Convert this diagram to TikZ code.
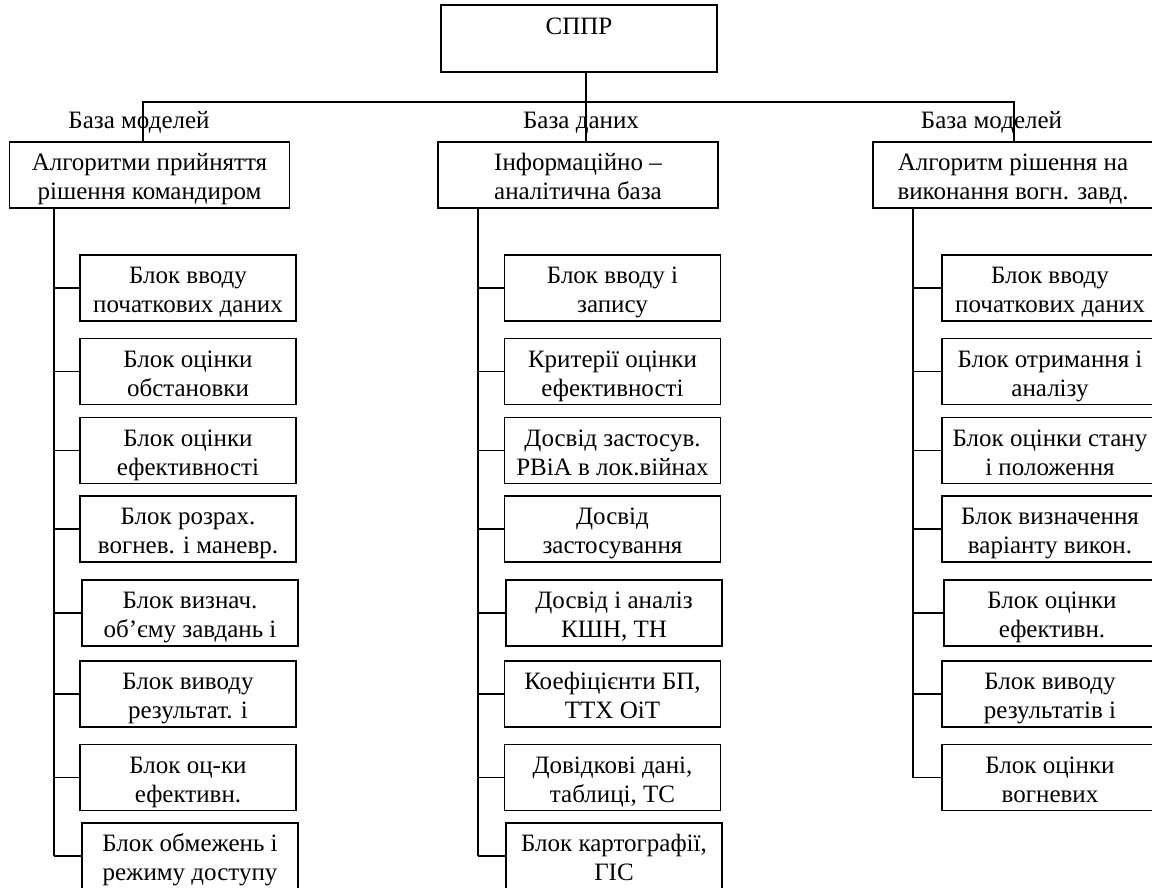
\documentclass[tikz,border=0pt]{standalone}
\usepackage{fontspec}
\setmainfont{Liberation Serif}
\begin{document}
\begin{tikzpicture}[x=1pt,y=-1pt,
  box/.style={draw, line width=1.8pt, inner sep=0pt, align=center,
    text height=50pt, text depth=1pt, font=\rmfamily\fontsize{25}{29}\selectfont},
  midbox/.style={box, minimum width=280pt, minimum height=66pt},
  leaf/.style={box, minimum width=216pt, minimum height=66pt},
  lbl/.style={inner sep=0pt, anchor=base, font=\rmfamily\fontsize{25}{29}\selectfont},
  conn/.style={line width=1.6pt}]
\useasboundingbox (0,0) rectangle (1152,887);
\clip (0,0) rectangle (1152,887);

% top
\node[box, text height=21pt, text depth=30pt, minimum width=276pt, minimum height=67pt] (sppr) at (579,38.5) {СППР};

% level 2
\node[midbox] (alg1) at (149.5,175) {Алгоритми прийняття\\рішення командиром};
\node[midbox] (info) at (578,175) {Інформаційно –\\аналітична база};
\node[midbox] (alg2) at (1013,175) {Алгоритм рішення на\\виконання вогн. завд.};

% labels
\node[lbl] (lb1) at (139,128) {База моделей};
\node[lbl] (lb2) at (581,128) {База даних};
\node[lbl] (lb3) at (991.5,128) {База моделей};

% junctions
\coordinate (jm) at (586,102);
\coordinate (jl) at (143,102);
\coordinate (jr) at (1014,102);
\draw[conn] (sppr.south -| jm) -- (info.north -| jm);
\draw[conn] (alg1.north -| jl) -- (jl) -- (jr) -- (alg2.north -| jr);

% left column
\node[leaf] (a1) at (188,288) {Блок вводу\\початкових даних};
\node[leaf] (a2) at (188,371.5) {Блок оцінки\\обстановки};
\node[leaf] (a3) at (188,450.5) {Блок оцінки\\ефективності};
\node[leaf] (a4) at (188,529) {Блок розрах.\\вогнев. і маневр.};
\node[leaf] (a5) at (190,613) {Блок визнач.\\об’єму завдань і};
\node[leaf] (a6) at (188,694) {Блок виводу\\результат. і};
\node[leaf] (a7) at (188,777.5) {Блок оц-ки\\ефективн.};
\node[leaf] (a8) at (190,856) {Блок обмежень і\\режиму доступу};

% middle column
\node[leaf] (b1) at (612.5,288) {Блок вводу і\\запису};
\node[leaf] (b2) at (612.5,371.5) {Критерії оцінки\\ефективності};
\node[leaf] (b3) at (612.5,450.5) {Досвід застосув.\\РВіА в лок.війнах};
\node[leaf] (b4) at (612.5,529) {Досвід\\застосування};
\node[leaf] (b5) at (614,613) {Досвід і аналіз\\КШН, ТН};
\node[leaf] (b6) at (612.5,694) {Коефіцієнти БП,\\ТТХ ОіТ};
\node[leaf] (b7) at (612.5,777.5) {Довідкові дані,\\таблиці, ТС};
\node[leaf] (b8) at (614,856) {Блок картографії,\\ГІС};

% right column
\node[leaf] (c1) at (1050,288) {Блок вводу\\початкових даних};
\node[leaf] (c2) at (1050,371.5) {Блок отримання і\\аналізу};
\node[leaf] (c3) at (1050,450.5) {Блок оцінки стану\\і положення};
\node[leaf] (c4) at (1050,529) {Блок визначення\\варіанту викон.};
\node[leaf] (c5) at (1052,613) {Блок оцінки\\ефективн.};
\node[leaf] (c6) at (1050,694) {Блок виводу\\результатів і};
\node[leaf] (c7) at (1050,777.5) {Блок оцінки\\вогневих};

% column trunks
\coordinate (xl) at (54,0);
\coordinate (xm) at (478,0);
\coordinate (xr) at (913,0);
\draw[conn] (alg1.south -| xl) -- (xl |- a8.west);
\draw[conn] (info.south -| xm) -- (xm |- b8.west);
\draw[conn] (alg2.south -| xr) -- (xr |- c7.west);
\foreach \n in {a1,a2,a3,a4,a5,a6,a7,a8}
  \draw[conn] (xl |- \n.west) -- (\n.west);
\foreach \n in {b1,b2,b3,b4,b5,b6,b7,b8}
  \draw[conn] (xm |- \n.west) -- (\n.west);
\foreach \n in {c1,c2,c3,c4,c5,c6,c7}
  \draw[conn] (xr |- \n.west) -- (\n.west);
\end{tikzpicture}
\end{document}
